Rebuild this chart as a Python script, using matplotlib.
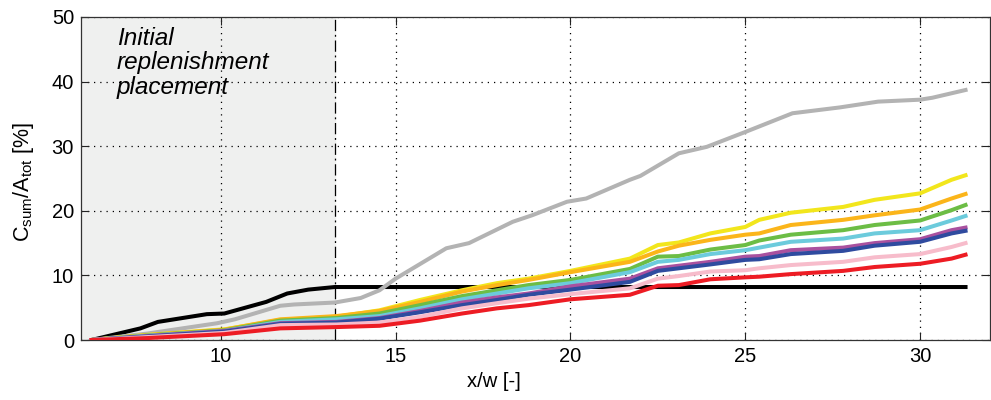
import numpy as np
import matplotlib
matplotlib.use('Agg')
import matplotlib.pyplot as plt

plt.rcParams['font.family'] = ['Liberation Sans', 'DejaVu Sans']

# x positions shared by the coloured runs
x_runs = [6.3, 7.9, 10.1, 11.7, 13.3, 14.54, 15.7, 16.9, 17.9, 18.8, 20.0, 21.7,
          22.5, 23.1, 24.0, 25.0, 25.4, 26.3, 27.8, 28.7, 30.0, 30.9, 31.3]

yellow = [0, 0.8, 1.65, 3.1, 3.6, 4.6, 6.2, 7.7, 8.8, 9.5, 10.7, 12.6,
          14.7, 15.1, 16.5, 17.5, 18.6, 19.7, 20.6, 21.7, 22.7, 24.8, 25.5]
orange = [0, 0.75, 1.6, 3.2, 3.7, 4.5, 5.9, 7.5, 8.5, 9.3, 10.5, 12.1,
          13.7, 14.6, 15.5, 16.3, 16.5, 17.8, 18.6, 19.3, 20.2, 21.9, 22.6]
green = [0, 0.7, 1.5, 3.0, 3.4, 4.1, 5.4, 6.8, 7.7, 8.5, 9.3, 11.0,
         12.9, 13.0, 14.0, 14.7, 15.4, 16.3, 17.0, 17.8, 18.5, 20.1, 20.9]
cyan = [0, 0.65, 1.4, 2.8, 3.2, 3.7, 4.9, 6.3, 7.2, 8.0, 8.8, 10.5,
        12.1, 12.4, 13.3, 13.9, 14.3, 15.2, 15.7, 16.5, 17.0, 18.5, 19.2]
purple = [0, 0.6, 1.4, 2.6, 2.8, 3.4, 4.5, 5.8, 6.6, 7.2, 8.3, 9.5,
          11.1, 11.5, 12.1, 12.9, 13.0, 13.9, 14.3, 15.0, 15.6, 17.0, 17.4]
blue = [0, 0.55, 1.3, 2.5, 2.7, 3.3, 4.3, 5.4, 6.2, 7.0, 7.8, 9.0,
        10.7, 11.1, 11.7, 12.4, 12.5, 13.3, 13.8, 14.6, 15.2, 16.5, 16.9]
pink = [0, 0.45, 1.1, 2.3, 2.4, 2.7, 3.6, 4.9, 5.7, 6.4, 7.1, 8.0,
        9.5, 9.9, 10.6, 10.8, 11.1, 11.6, 12.1, 12.8, 13.3, 14.4, 15.0]
red = [0, 0.3, 0.9, 1.8, 2.0, 2.2, 3.0, 4.1, 4.9, 5.4, 6.3, 7.0,
       8.4, 8.5, 9.4, 9.7, 9.8, 10.2, 10.7, 11.3, 11.8, 12.6, 13.2]

# initial placement (black) and the gray run
x_black = [6.3, 7.7, 8.2, 9.6, 10.1, 11.3, 11.9, 12.5, 13.26, 31.3]
y_black = [0, 1.8, 2.8, 4.0, 4.1, 5.9, 7.2, 7.8, 8.2, 8.2]

x_gray = [6.3, 7.9, 9.9, 10.4, 11.7, 12.1, 13.26, 14.0, 14.54, 15.0, 16.45, 17.1,
          18.35, 18.9, 19.9, 20.45, 21.7, 22.0, 23.1, 23.9, 25.0, 26.35, 27.7,
          28.8, 30.0, 30.35, 31.3]
y_gray = [0, 1.0, 2.6, 3.2, 5.3, 5.5, 5.8, 6.5, 7.7, 9.5, 14.2, 15.0,
          18.3, 19.3, 21.4, 21.9, 24.8, 25.4, 28.9, 29.9, 32.2, 35.1, 36.0,
          36.9, 37.2, 37.5, 38.7]

placement_end = 13.26

fig = plt.figure(figsize=(9.91, 4.0), dpi=100)
ax = fig.add_axes([0.0817, 0.15, 0.9173, 0.8075])

# shaded initial placement zone
ax.axvspan(6, placement_end, color='#eff0ef', zorder=0)
ax.axvline(placement_end, color='k', lw=0.9, ls=(0, (9, 3, 1.5, 3)), zorder=1)

lw = 2.9
ax.plot(x_black, y_black, color='black', lw=lw, zorder=3)
ax.plot(x_gray, y_gray, color='#b3b3b3', lw=lw, zorder=3)
runs = [(yellow, '#f2e61c'), (orange, '#fbb51a'), (green, '#6cbd45'),
        (cyan, '#6ccbdc'), (purple, '#a9519f'), (blue, '#2f4b9f'),
        (pink, '#f7bccb'), (red, '#ed1c24')]
for vals, col in runs:
    ax.plot(x_runs, vals, color=col, lw=lw, zorder=3)

ax.set_xlim(6, 32)
ax.set_ylim(0, 50)
ax.set_xticks([10, 15, 20, 25, 30])
ax.set_yticks([0, 10, 20, 30, 40, 50])
ax.grid(True, color='black', ls=(0, (1, 4)), lw=0.9)
ax.set_axisbelow(True)
ax.tick_params(direction='in', length=6, width=0.8, top=True, right=True,
               labelsize=14.5, pad=5, colors='#222222', labelcolor='black')
for s in ax.spines.values():
    s.set_color('#333333')
    s.set_linewidth(0.9)

ax.set_xlabel('x/w [-]', fontsize=14.5)
ax.xaxis.set_label_coords(0.454, -0.1)
ax.set_ylabel(r'C$_\mathregular{sum}$/A$_\mathregular{tot}$ [%]', fontsize=15.5)
ax.yaxis.set_label_coords(-0.05, 0.49)

ax.text(7.03, 48.5, 'Initial\nreplenishment\nplacement', style='italic',
        fontsize=17.5, va='top', ha='left', linespacing=1.1)

fig.savefig('out.png', dpi=100)
